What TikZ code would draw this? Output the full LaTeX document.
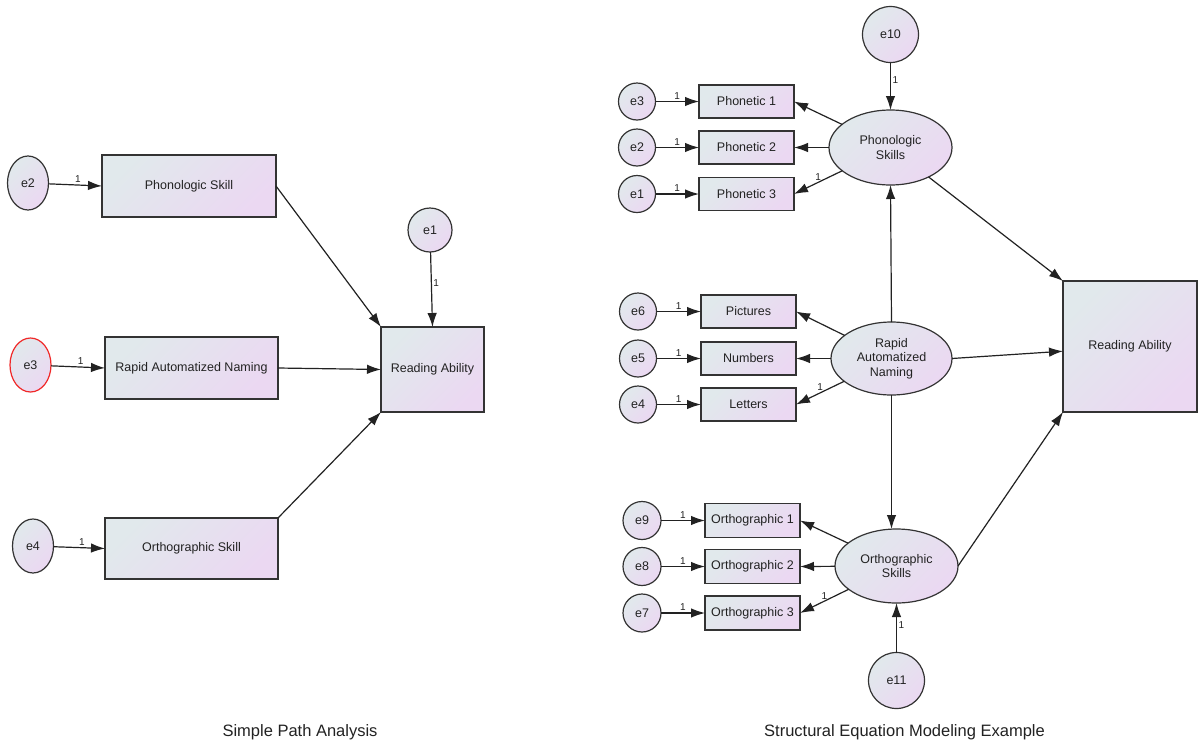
\documentclass[tikz,border=0pt]{standalone}
\usepackage{fontspec}
\setmainfont{Liberation Sans}
\usetikzlibrary{shapes.geometric,arrows.meta}
\definecolor{gradA}{HTML}{E1E9EC}
\definecolor{gradB}{HTML}{EBD8F2}
\definecolor{edge}{HTML}{333333}
\definecolor{ink}{HTML}{222222}
\definecolor{errred}{HTML}{F02828}
\begin{document}
\begin{tikzpicture}[x=1pt,y=-1pt,
  every node/.style={text=ink},
  shaded/.style={top color=gradA, bottom color=gradB, shading angle=45,
    draw=edge, line width=1.2pt, inner sep=0pt, outer sep=0pt},
  obsbox/.style={shaded, rectangle, font=\fontsize{12.5}{14.5}\selectfont},
  latent/.style={shaded, ellipse, align=center, font=\fontsize{12.5}{14.5}\selectfont},
  errnode/.style={shaded, ellipse, font=\fontsize{12.5}{14.5}\selectfont},
  path/.style={draw=ink, line width=1.2pt, -{Latex[length=14pt,width=9.5pt]}},
  lab/.style={font=\fontsize{10}{11}\selectfont, inner sep=1.5pt},
  caption/.style={font=\fontsize{16.5}{18}\selectfont}
]
\useasboundingbox[fill=white] (0,0) rectangle (1200,745);

% ---------------- Simple path analysis ----------------
\node[obsbox, minimum width=174pt, minimum height=62pt] (ps)  at (189,186)    {Phonologic Skill};
\node[obsbox, minimum width=173pt, minimum height=62pt] (ran) at (191.5,368)  {Rapid Automatized Naming};
\node[obsbox, minimum width=173pt, minimum height=61pt] (os)  at (191.5,548.5){Orthographic Skill};
\node[obsbox, minimum width=103pt, minimum height=85pt] (ra)  at (432.5,369.5){Reading Ability};

\node[errnode, minimum width=41pt, minimum height=54pt] (le2) at (28,183)  {e2};
\node[errnode, minimum width=41pt, minimum height=54pt, draw=errred] (le3) at (30.5,365) {e3};
\node[errnode, minimum width=41pt, minimum height=54pt] (le4) at (33,546)  {e4};
\node[errnode, minimum width=44pt, minimum height=44pt] (le1) at (430,230)  {e1};

\draw[path] (le2) -- (ps.west)  node[lab, pos=0.55, above] {1};
\draw[path] (le3) -- (ran.west) node[lab, pos=0.55, above] {1};
\draw[path] (le4) -- (os.west)  node[lab, pos=0.55, above] {1};
\draw[path] (le1) -- (ra.north) node[lab, pos=0.42, right] {1};
\draw[path] (ps.east) -- (ra.north west);
\draw[path] (ran.east) -- (ra.west);
\draw[path] (os.north east) -- (ra.south west);

\node[caption] (capL) at (300,732) {Simple Path Analysis};

% ---------------- Structural equation model ----------------
\node[latent, minimum width=123pt, minimum height=75pt] (phs) at (890.5,147.5) {Phonologic\\Skills};
\node[latent, minimum width=121pt, minimum height=73pt] (rans) at (891.5,358.5) {Rapid\\Automatized\\Naming};
\node[latent, minimum width=123pt, minimum height=74pt] (ors) at (896.5,566) {Orthographic\\Skills};
\node[obsbox, minimum width=134pt, minimum height=131pt] (ra2) at (1130,346.5) {Reading Ability};

\node[obsbox, minimum width=95pt, minimum height=33pt] (p1) at (746.5,101.5) {Phonetic 1};
\node[obsbox, minimum width=95pt, minimum height=33pt] (p2) at (746.5,147.5) {Phonetic 2};
\node[obsbox, minimum width=95pt, minimum height=33pt] (p3) at (746.5,194)   {Phonetic 3};
\node[obsbox, minimum width=95pt, minimum height=33pt] (pic) at (748.5,311.5) {Pictures};
\node[obsbox, minimum width=95pt, minimum height=33pt] (num) at (748.5,358.5) {Numbers};
\node[obsbox, minimum width=95pt, minimum height=33pt] (let) at (748.5,404.5) {Letters};
\node[obsbox, minimum width=95pt, minimum height=34pt] (o1) at (752.5,520.5) {Orthographic 1};
\node[obsbox, minimum width=95pt, minimum height=34pt] (o2) at (752.5,566.5) {Orthographic 2};
\node[obsbox, minimum width=95pt, minimum height=34pt] (o3) at (752.5,613)   {Orthographic 3};

\node[errnode, minimum size=37pt] (re3) at (637,101.5) {e3};
\node[errnode, minimum size=37pt] (re2) at (637,147.5) {e2};
\node[errnode, minimum size=37pt] (re1) at (637,194)   {e1};
\node[errnode, minimum size=37pt] (re6) at (638,311.5) {e6};
\node[errnode, minimum size=37pt] (re5) at (638,358.5) {e5};
\node[errnode, minimum size=37pt] (re4) at (638,404.5) {e4};
\node[errnode, minimum size=38pt] (re9) at (642,520.5) {e9};
\node[errnode, minimum size=38pt] (re8) at (642,566.5) {e8};
\node[errnode, minimum size=38pt] (re7) at (642,613)   {e7};
\node[errnode, minimum size=56pt] (re10) at (890.5,34.5) {e10};
\node[errnode, minimum size=56pt] (re11) at (896.5,680.5) {e11};

% measurement errors
\foreach \e/\b in {re3/p1,re2/p2,re1/p3,re6/pic,re5/num,re4/let,re9/o1,re8/o2,re7/o3}
  \draw[path] (\e) -- (\b.west) node[lab, pos=0.5, above] {1};

% loadings
\draw[path] (phs) -- (p1.east);
\draw[path] (phs) -- (p2.east);
\draw[path] (phs) -- (p3.east) node[lab, pos=0.5, above] {1};
\draw[path] (rans) -- (pic.east);
\draw[path] (rans) -- (num.east);
\draw[path] (rans) -- (let.east) node[lab, pos=0.5, above] {1};
\draw[path] (ors) -- (o1.east);
\draw[path] (ors) -- (o2.east);
\draw[path] (ors) -- (o3.east) node[lab, pos=0.5, above] {1};

% disturbances
\draw[path] (re10) -- (phs) node[lab, pos=0.38, right] {1};
\draw[path] (re11) -- (ors) node[lab, pos=0.55, right] {1};

% structural paths
\draw[path] (rans.north) -- (phs.south);
\draw[path] (rans.south) -- (rans.south |- ors.north);
\draw[path] (phs) -- (ra2.north west);
\draw[path] (rans.east) -- (ra2.184);
\draw[path] (ors.east) -- (ra2.south west);

\node[caption] (capR) at (904.5,732) {Structural Equation Modeling Example};
\end{tikzpicture}
\end{document}
